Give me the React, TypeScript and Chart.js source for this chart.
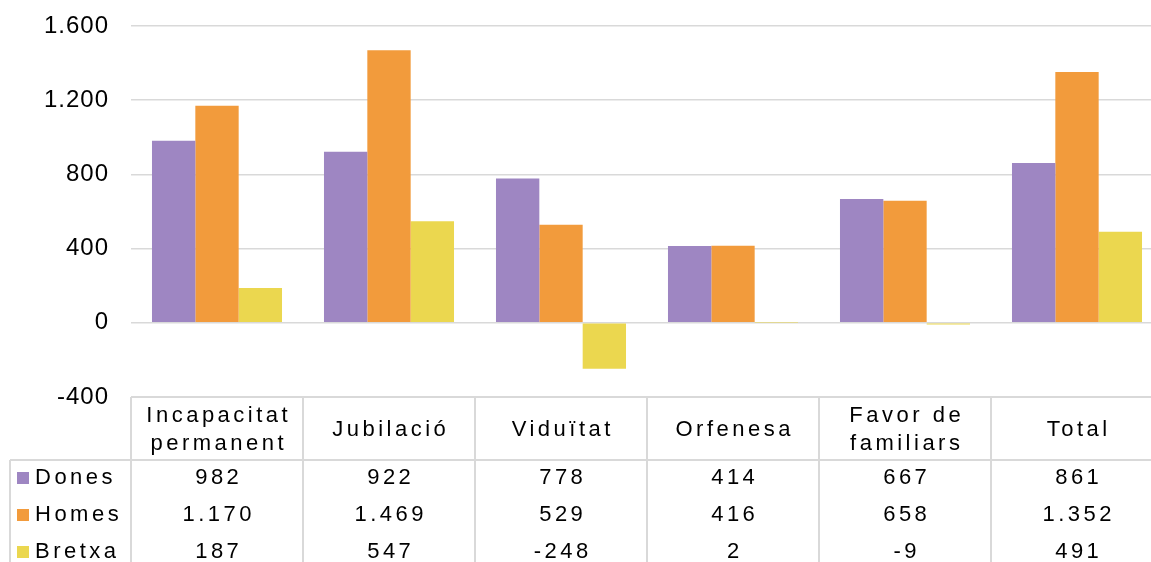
import React, { useEffect, useRef } from "react";
import { Chart, registerables } from "chart.js";

Chart.register(...registerables);

const categories: string[][] = [
  ["Incapacitat", "permanent"],
  ["Jubilació"],
  ["Viduïtat"],
  ["Orfenesa"],
  ["Favor de", "familiars"],
  ["Total"],
];
const seriesNames = ["Dones", "Homes", "Bretxa"];
const dones = [982, 922, 778, 414, 667, 861];
const homes = [1170, 1469, 529, 416, 658, 1352];
const bretxa = [187, 547, -248, 2, -9, 491];
const colors = ["#9E86C2", "#F29B3C", "#EBD74F"];
const yTicks = [-400, 0, 400, 800, 1200, 1600];

const FONT = "'Liberation Sans', Arial, sans-serif";

function fmt(n: number): string {
  const s = String(Math.abs(n)).replace(/\B(?=(\d{3})+(?!\d))/g, ".");
  return (n < 0 ? "-" : "") + s;
}

const tablePlugin = {
  id: "dataTable",
  beforeDraw(chart: any) {
    (chart.ctx as any).letterSpacing = "1px";
  },
  afterDraw(chart: any) {
    const ctx = chart.ctx as CanvasRenderingContext2D;
    const x = chart.scales.x;
    const area = chart.chartArea;
    const half = (x.getPixelForValue(1) - x.getPixelForValue(0)) / 2;
    const top = area.bottom;
    const headBottom = top + 63;
    const bottom = chart.height;
    const n = categories.length;
    const left0 = x.getPixelForValue(0) - half;
    const right0 = x.getPixelForValue(n - 1) + half;
    ctx.save();
    ctx.strokeStyle = "#d9d9d9";
    ctx.lineWidth = 2;
    ctx.beginPath();
    ctx.moveTo(left0, top);
    ctx.lineTo(right0, top);
    ctx.moveTo(10, headBottom);
    ctx.lineTo(right0, headBottom);
    ctx.moveTo(10, headBottom);
    ctx.lineTo(10, bottom);
    for (let i = 0; i <= n; i++) {
      const bx = x.getPixelForValue(0) - half + i * 2 * half;
      ctx.moveTo(bx, top);
      ctx.lineTo(bx, bottom);
    }
    ctx.stroke();

    const sp = 3.5;
    (ctx as any).letterSpacing = sp + "px";
    ctx.font = "22px " + FONT;
    ctx.fillStyle = "#000";
    ctx.textAlign = "center";
    ctx.textBaseline = "middle";
    const headMid = (top + headBottom) / 2;
    categories.forEach((lines, i) => {
      const cx = x.getPixelForValue(i) + sp / 2;
      const lh = 28;
      const start = headMid - ((lines.length - 1) * lh) / 2;
      lines.forEach((l, j) => ctx.fillText(l, cx, start + j * lh + 1));
    });
    const rows = [dones, homes, bretxa];
    rows.forEach((vals, r) => {
      const cy = headBottom + 18 + r * 37;
      vals.forEach((v, i) => {
        ctx.fillText(fmt(v), x.getPixelForValue(i) + sp / 2, cy);
      });
      ctx.fillStyle = colors[r];
      ctx.fillRect(17, cy - 6, 12, 12);
      ctx.fillStyle = "#000";
      ctx.textAlign = "left";
      ctx.fillText(seriesNames[r], 35, cy);
      ctx.textAlign = "center";
    });
    ctx.restore();
  },
};

export default function App() {
  const ref = useRef<HTMLCanvasElement>(null);
  useEffect(() => {
    if (!ref.current) return;
    const chart = new Chart(ref.current, {
      type: "bar",
      data: {
        labels: categories.map((c) => c.join(" ")),
        datasets: [dones, homes, bretxa].map((d, i) => ({
          label: seriesNames[i],
          data: d,
          backgroundColor: colors[i],
          borderWidth: 0,
          categoryPercentage: 0.756,
          barPercentage: 1,
        })),
      },
      options: {
        animation: false,
        responsive: true,
        maintainAspectRatio: false,
        layout: { padding: { top: 26, bottom: 165, left: 0, right: 1 } },
        plugins: { legend: { display: false }, tooltip: { enabled: false } },
        scales: {
          x: { display: false, grid: { display: false } },
          y: {
            min: yTicks[0],
            max: yTicks[yTicks.length - 1],
            afterBuildTicks: (s: any) => {
              s.ticks = yTicks.map((v) => ({ value: v }));
            },
            afterFit: (s: any) => {
              s.width = 131;
              s.paddingTop = 0;
              s.paddingBottom = 0;
            },
            border: { display: false },
            grid: { color: "#d9d9d9", lineWidth: 1.5, drawTicks: false },
            ticks: {
              padding: 22,
              color: "#000",
              font: { size: 24, family: FONT },
              callback: (v: any) => fmt(Number(v)),
            },
          },
        },
      },
      plugins: [tablePlugin],
    });
    return () => chart.destroy();
  }, []);
  return (
    <div style={{ position: "fixed", left: 0, top: 0, width: 1151, height: 562, overflow: "hidden", background: "#fff" }}>
      <div style={{ position: "relative", width: 1164, height: 562 }}>
        <canvas ref={ref} />
      </div>
    </div>
  );
}
